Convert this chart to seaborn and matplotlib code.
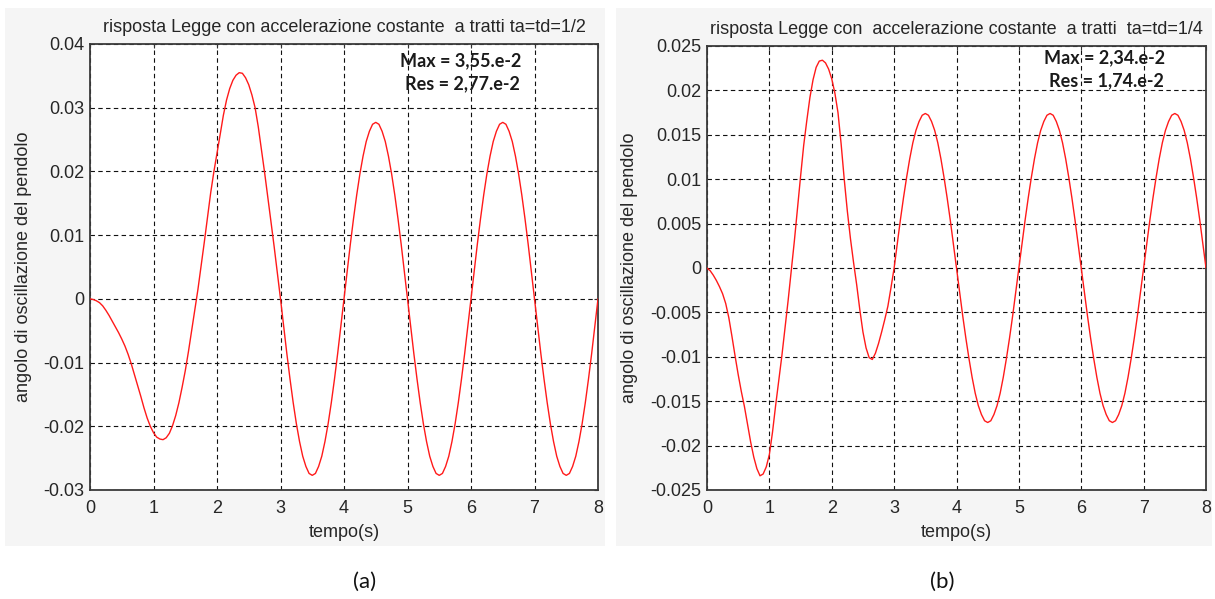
import numpy as np
import matplotlib
matplotlib.use("Agg")
import matplotlib.pyplot as plt
import seaborn as sns
from matplotlib.patches import Rectangle
from matplotlib.ticker import FixedLocator, FixedFormatter

# time samples (s), every 0.05 s
time_s = np.round(np.linspace(0.0, 8.0, 161), 3)

# pendulum swing angle, law with constant acceleration segments, ta=td=1/2
angle_half = [
    # 0.00 - 0.95 s
    0.0, -0.0001, -0.0003, -0.0006, -0.0011, -0.0018, -0.0026, -0.0035, -0.0044, -0.0053,
    -0.0063, -0.0074, -0.0087, -0.0102, -0.0119, -0.0136, -0.0153, -0.0171, -0.0187, -0.0200,
    # 1.00 - 1.95 s
    -0.0210, -0.0217, -0.0220, -0.0221, -0.0218, -0.0211, -0.0199, -0.0183, -0.0163, -0.0139,
    -0.0113, -0.0083, -0.0050, -0.0018, 0.0015, 0.0052, 0.0089, 0.0128, 0.0166, 0.0199,
    # 2.00 - 2.95 s
    0.0228, 0.0258, 0.0288, 0.0312, 0.0330, 0.0343, 0.0351, 0.0355, 0.0354, 0.0347,
    0.0336, 0.0320, 0.0300, 0.0270, 0.0234, 0.0198, 0.0160, 0.0121, 0.0082, 0.0041,
    # 3.00 - 3.95 s
    0.0, -0.0043, -0.0086, -0.0126, -0.0163, -0.0196, -0.0224, -0.0247, -0.0263, -0.0274,
    -0.0277, -0.0274, -0.0263, -0.0247, -0.0224, -0.0196, -0.0163, -0.0126, -0.0086, -0.0043,
    # 4.00 - 4.95 s
    0.0, 0.0043, 0.0086, 0.0126, 0.0163, 0.0196, 0.0224, 0.0247, 0.0263, 0.0274,
    0.0277, 0.0274, 0.0263, 0.0247, 0.0224, 0.0196, 0.0163, 0.0126, 0.0086, 0.0043,
    # 5.00 - 5.95 s
    0.0, -0.0043, -0.0086, -0.0126, -0.0163, -0.0196, -0.0224, -0.0247, -0.0263, -0.0274,
    -0.0277, -0.0274, -0.0263, -0.0247, -0.0224, -0.0196, -0.0163, -0.0126, -0.0086, -0.0043,
    # 6.00 - 6.95 s
    0.0, 0.0043, 0.0086, 0.0126, 0.0163, 0.0196, 0.0224, 0.0247, 0.0263, 0.0274,
    0.0277, 0.0274, 0.0263, 0.0247, 0.0224, 0.0196, 0.0163, 0.0126, 0.0086, 0.0043,
    # 7.00 - 7.95 s
    0.0, -0.0043, -0.0086, -0.0126, -0.0163, -0.0196, -0.0224, -0.0247, -0.0263, -0.0274,
    -0.0277, -0.0274, -0.0263, -0.0247, -0.0224, -0.0196, -0.0163, -0.0126, -0.0086, -0.0043,
    # 8.00 s
    0.0,
]

# same law with ta=td=1/4
angle_quarter = [
    # 0.00 - 0.95 s
    0.0, -0.0003, -0.0008, -0.0014, -0.0021, -0.0029, -0.0040, -0.0056, -0.0077, -0.0099,
    -0.0120, -0.0139, -0.0156, -0.0176, -0.0196, -0.0213, -0.0226, -0.0234, -0.0232, -0.0224,
    # 1.00 - 1.95 s
    -0.0210, -0.0185, -0.0155, -0.0127, -0.0099, -0.0068, -0.0037, -0.0004, 0.0030, 0.0067,
    0.0103, 0.0138, 0.0166, 0.0192, 0.0212, 0.0226, 0.0233, 0.0234, 0.0231, 0.0224,
    # 2.00 - 2.95 s
    0.0213, 0.0197, 0.0175, 0.0140, 0.0100, 0.0064, 0.0033, 0.0006, -0.0019, -0.0047,
    -0.0072, -0.0090, -0.0101, -0.0103, -0.0096, -0.0085, -0.0072, -0.0058, -0.0043, -0.0022,
    # 3.00 - 3.95 s
    0.0, 0.0027, 0.0054, 0.0079, 0.0102, 0.0123, 0.0141, 0.0155, 0.0165, 0.0172,
    0.0174, 0.0172, 0.0165, 0.0155, 0.0141, 0.0123, 0.0102, 0.0079, 0.0054, 0.0027,
    # 4.00 - 4.95 s
    0.0, -0.0027, -0.0054, -0.0079, -0.0102, -0.0123, -0.0141, -0.0155, -0.0165, -0.0172,
    -0.0174, -0.0172, -0.0165, -0.0155, -0.0141, -0.0123, -0.0102, -0.0079, -0.0054, -0.0027,
    # 5.00 - 5.95 s
    0.0, 0.0027, 0.0054, 0.0079, 0.0102, 0.0123, 0.0141, 0.0155, 0.0165, 0.0172,
    0.0174, 0.0172, 0.0165, 0.0155, 0.0141, 0.0123, 0.0102, 0.0079, 0.0054, 0.0027,
    # 6.00 - 6.95 s
    0.0, -0.0027, -0.0054, -0.0079, -0.0102, -0.0123, -0.0141, -0.0155, -0.0165, -0.0172,
    -0.0174, -0.0172, -0.0165, -0.0155, -0.0141, -0.0123, -0.0102, -0.0079, -0.0054, -0.0027,
    # 7.00 - 7.95 s
    0.0, 0.0027, 0.0054, 0.0079, 0.0102, 0.0123, 0.0141, 0.0155, 0.0165, 0.0172,
    0.0174, 0.0172, 0.0165, 0.0155, 0.0141, 0.0123, 0.0102, 0.0079, 0.0054, 0.0027,
    # 8.00 s
    0.0,
]

x_ticks = [0, 1, 2, 3, 4, 5, 6, 7, 8]
x_tick_labels = ["0", "1", "2", "3", "4", "5", "6", "7", "8"]

y_ticks_half = [0.04, 0.03, 0.02, 0.01, 0.0, -0.01, -0.02, -0.03]
y_labels_half = ["0.04", "0.03", "0.02", "0.01", "0", "-0.01", "-0.02", "-0.03"]

y_ticks_quarter = [0.025, 0.02, 0.015, 0.01, 0.005, 0.0, -0.005, -0.01, -0.015, -0.02, -0.025]
y_labels_quarter = ["0.025", "0.02", "0.015", "0.01", "0.005", "0", "-0.005", "-0.01",
                    "-0.015", "-0.02", "-0.025"]

titles = [
    "risposta Legge con accelerazione costante  a tratti ta=td=1/2",
    "risposta Legge con  accelerazione costante  a tratti  ta=td=1/4",
]
max_texts = ["Max = 3,55.e-2", "Max = 2,34.e-2"]
res_texts = ["Res = 2,77.e-2", "Res = 1,74.e-2"]
panel_tags = ["(a)", "(b)"]
x_label = "tempo(s)"
y_label = "angolo di oscillazione del pendolo"

sns.set_theme(style="white")
plt.rcParams["font.family"] = ["Liberation Sans", "DejaVu Sans"]

W, H = 1215, 599
fig = plt.figure(figsize=(W / 100, H / 100), dpi=100, facecolor="white")


def fx(px):
    return px / W


def fy(py):
    return 1 - py / H


# light grey figure panels behind each plot
panel_boxes = [(5, 8, 605, 546), (616, 8, 1212, 546)]
for x0, y0, x1, y1 in panel_boxes:
    fig.patches.append(Rectangle((fx(x0), fy(y1)), fx(x1 - x0), (y1 - y0) / H,
                                 transform=fig.transFigure, facecolor="#f5f5f5",
                                 edgecolor="none", zorder=-5))

axes_px = [(90, 44, 598, 490), (707, 46, 1206, 490)]
panels = [
    (angle_half, y_ticks_half, y_labels_half, (-0.03, 0.04), -0.114),
    (angle_quarter, y_ticks_quarter, y_labels_quarter, (-0.025, 0.025), -0.138),
]
text_pos = [((5.83, 0.0374), (5.86, 0.0338)), ((6.38, 0.0237), (6.40, 0.0211))]
tag_pos = [(365, 582), (942, 582)]

for i, ((l, t, r, b), (vals, yt, ytl, ylim, ylab_x)) in enumerate(zip(axes_px, panels)):
    ax = fig.add_axes([fx(l), fy(b), fx(r - l), (b - t) / H])
    ax.set_zorder(2)
    ax.set_facecolor("white")
    sns.lineplot(x=time_s, y=vals, ax=ax, color="#ff1a1a", linewidth=1.0,
                 estimator=None, sort=False, zorder=3)
    ax.set_xlim(0, 8)
    ax.set_ylim(*ylim)
    ax.xaxis.set_major_locator(FixedLocator(x_ticks))
    ax.xaxis.set_major_formatter(FixedFormatter(x_tick_labels))
    ax.yaxis.set_major_locator(FixedLocator(yt))
    ax.yaxis.set_major_formatter(FixedFormatter(ytl))
    ax.grid(True, color="#111111", linestyle=(0, (4, 3)), linewidth=0.8, zorder=1)
    ax.tick_params(axis="both", which="major", labelsize=13, labelcolor="#262626",
                   direction="in", length=3, width=0.8, color="#333333",
                   top=True, right=True, pad=4)
    ax.tick_params(axis="x", pad=7)
    for sp in ax.spines.values():
        sp.set_color("#3a3a3a")
        sp.set_linewidth(1.3)
        sp.set_visible(True)
    ax.set_title(titles[i], fontsize=13, color="#262626", pad=9)
    ax.set_xlabel(x_label, fontsize=13, color="#262626", labelpad=5)
    ax.set_ylabel(y_label, fontsize=13, color="#262626")
    ax.yaxis.set_label_coords(ylab_x, 0.5)
    (mx, my), (rx, ry) = text_pos[i]
    ax.text(mx, my, max_texts[i], ha="center", va="center", fontsize=13,
            fontweight="bold", family=["Lato", "DejaVu Sans"], color="#1a1a1a", zorder=4)
    ax.text(rx, ry, res_texts[i], ha="center", va="center", fontsize=13,
            fontweight="bold", family=["Lato", "DejaVu Sans"], color="#1a1a1a", zorder=4)
    tx, ty = tag_pos[i]
    fig.text(fx(tx), fy(ty), panel_tags[i], ha="center", va="center", fontsize=16,
             family=["Lato", "DejaVu Sans"], color="#111111")

fig.savefig("out.png", dpi=100, facecolor="white")
